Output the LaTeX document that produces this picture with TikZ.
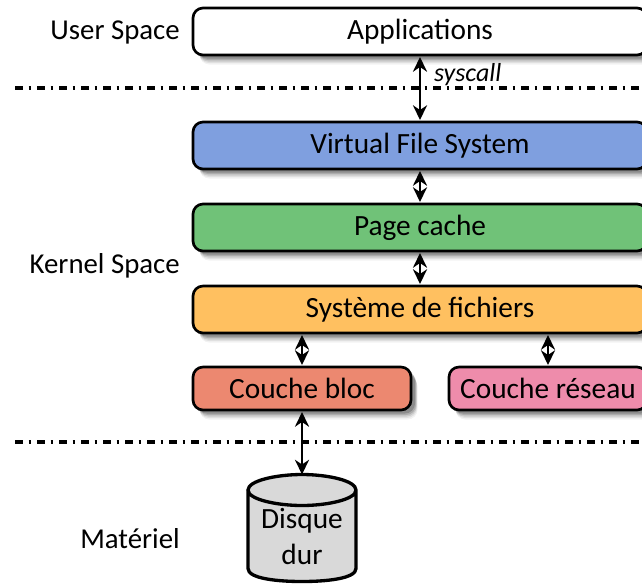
\documentclass[tikz,border=0pt]{standalone}
\usepackage{fontspec}
\setmainfont{Carlito}
\usetikzlibrary{arrows.meta,shadows}
\tikzset{
  softshadow/.style={
    general shadow={fill=black,opacity=.05,shadow xshift=6.5*.75pt,shadow yshift=-9.5*.75pt},
    general shadow={fill=black,opacity=.07,shadow xshift=6*.75pt,shadow yshift=-8*.75pt},
    general shadow={fill=black,opacity=.10,shadow xshift=5.5*.75pt,shadow yshift=-6.5*.75pt},
    general shadow={fill=black,opacity=.14,shadow xshift=5*.75pt,shadow yshift=-5*.75pt},
    general shadow={fill=black,opacity=.18,shadow xshift=4*.75pt,shadow yshift=-3.5*.75pt}},
  layerbox/.style={draw=black,line width=2pt,rounded corners=7.5pt,softshadow,inner sep=0pt,outer sep=1.5pt,font=\fontsize{22}{24}\selectfont},
  sidelabel/.style={anchor=east,inner sep=0pt,font=\fontsize{21.6}{24}\selectfont},
  link/.style={line width=2.1pt,{Stealth[length=11pt,width=10.5pt,inset=3.5pt]}-{Stealth[length=11pt,width=10.5pt,inset=3.5pt]}},
  sep/.style={line width=2.5pt,dash pattern=on 6pt off 4.25pt on 2pt off 4.25pt}
}
\definecolor{cblue}{HTML}{7F9FDF}
\definecolor{cgreen}{HTML}{70C278}
\definecolor{corange}{HTML}{FFC060}
\definecolor{cred}{HTML}{EC8870}
\definecolor{cpink}{HTML}{EE8CAB}
\definecolor{cgray}{HTML}{D9D9D9}
\begin{document}
\begin{tikzpicture}[x=.75pt,y=-.75pt]
\useasboundingbox (0,0) rectangle (642,583);
\clip (0,0) rectangle (642,583);
\fill[white] (0,0) rectangle (642,583);
\coordinate (s1a) at (15,88);\coordinate (s1b) at (642,88);
\coordinate (s2a) at (15,442);\coordinate (s2b) at (642,442);
\begin{scope}[every node/.style={layerbox,minimum width=454*.75pt,minimum height=47*.75pt}]
\node[fill=white] (apps) at (420,31.5) {Applications};
\node[fill=cblue] (vfs) at (420,145.5) {Virtual File System};
\node[fill=cgreen] (page) at (420,227.5) {Page cache};
\node[fill=corange] (fs) at (420,309.5) {Système de fichiers};
\end{scope}
\node[layerbox,fill=cred,minimum width=218*.75pt,minimum height=43*.75pt] (bloc) at (302,388.5) {Couche bloc};
\node[layerbox,fill=cpink,minimum width=198*.75pt,minimum height=43*.75pt] (net) at (548,388.5) {Couche réseau};
\draw[sep] (s1a) -- (s1b);
\draw[sep] (s2a) -- (s2b);
\node[minimum width=104*.75pt,minimum height=103*.75pt,inner sep=0pt,outer sep=1.5pt] (disk) at (302,528) {};
\draw[line width=2.5pt,fill=cgray] ([yshift=-15.5*.75pt]disk.north west) -- ([yshift=13*.75pt]disk.south west)
  .. controls ([yshift=3*.75pt]disk.south west) and ([xshift=-25*.75pt]disk.south) .. (disk.south)
  .. controls ([xshift=25*.75pt]disk.south) and ([yshift=3*.75pt]disk.south east) .. ([yshift=13*.75pt]disk.south east)
  -- ([yshift=-15.5*.75pt]disk.north east)
  .. controls ([yshift=-6*.75pt]disk.north east) and ([xshift=25*.75pt]disk.north) .. (disk.north)
  .. controls ([xshift=-25*.75pt]disk.north) and ([yshift=-6*.75pt]disk.north west) .. ([yshift=-15.5*.75pt]disk.north west)
  .. controls ([yshift=-25*.75pt]disk.north west) and ([shift={(-25*.75pt,-31*.75pt)}]disk.north) .. ([yshift=-31*.75pt]disk.north)
  .. controls ([shift={(25*.75pt,-31*.75pt)}]disk.north) and ([yshift=-25*.75pt]disk.north east) .. ([yshift=-15.5*.75pt]disk.north east);
\node[align=center,inner sep=0pt,font=\fontsize{22}{27}\selectfont] (disktxt) at (302,536.5) {Disque\\dur};
\draw[link] (apps) -- node[pos=.28,right,inner sep=0pt,xshift=9.5pt,font=\fontsize{19.5}{20}\selectfont\itshape] (sys) {syscall} (vfs);
\draw[link] (vfs) -- (page);
\draw[link] (page) -- (fs);
\draw[link] (fs.south -| bloc) -- (bloc);
\draw[link] (fs.south -| net) -- (net);
\draw[link] (bloc) -- (disk);
\node[sidelabel] (us) at (180,32) {User Space};
\node[sidelabel] (ks) at (180,266) {Kernel Space};
\node[sidelabel] (mat) at (180,539) {Matériel};
\end{tikzpicture}
\end{document}
